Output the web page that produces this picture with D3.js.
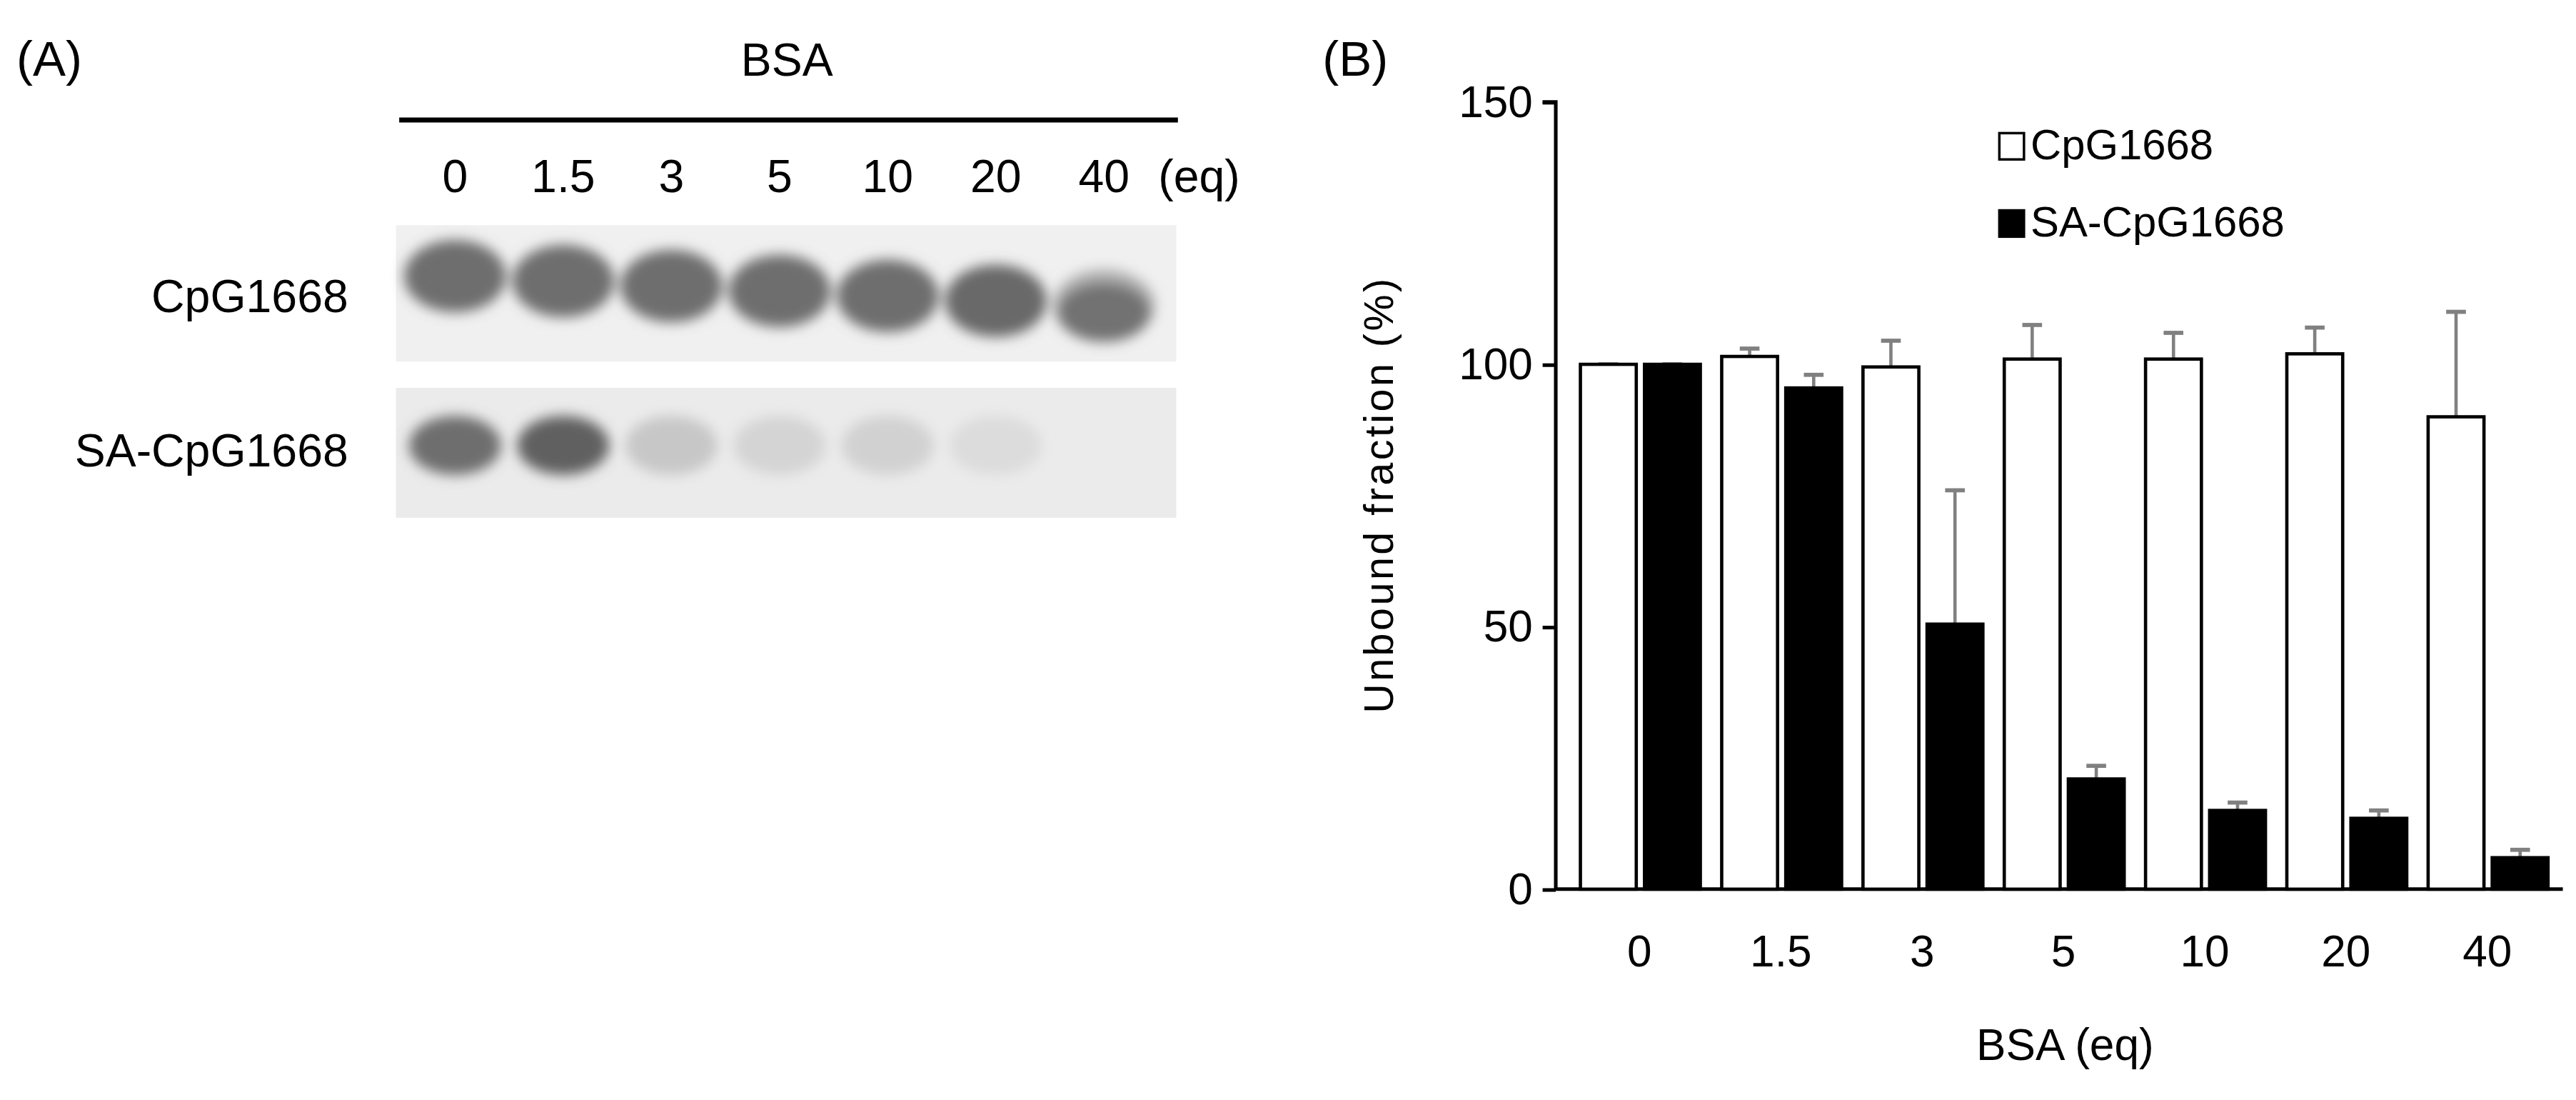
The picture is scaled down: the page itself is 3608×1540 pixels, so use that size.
<!DOCTYPE html><html><head><meta charset="utf-8"><script src="https://cdn.jsdelivr.net/npm/d3@7"></script>
<style>body{margin:0;background:#fff}</style></head><body><svg id="c" width="3608" height="1540"></svg>
<script>
const categories=["0","1.5","3","5","10","20","40"];
const cpgValues=[100,101.5,99.5,101,101,102,90];
const cpgErrors=[0,1.5,5,6.5,5,5,20];
const saValues=[100,95.5,50.5,21,15,13.5,6];
const saErrors=[0,2.5,25.5,2.5,1.5,1.5,1.5];
const significant=[false,false,false,true,true,true,true];
const yTicks=[0,50,100,150];
const gelTopIntensity=[0.62,0.62,0.62,0.62,0.62,0.64,0.30];
const gelTopLower=[0,0,0,0,0,0,0.6];
const gelBottomIntensity=[0.62,0.68,0.18,0.12,0.13,0.08,0];

const svg=d3.select("#c");
const g=svg.append("g").attr("transform","scale(2.301)");
const F="'Liberation Sans',Arial,sans-serif", FN="'Liberation Sans Narrow','Liberation Sans',sans-serif";
const defs=svg.append("defs");
defs.append("filter").attr("id","blur").attr("x","-50%").attr("y","-50%").attr("width","200%").attr("height","200%")
 .append("feGaussianBlur").attr("stdDeviation",4);

// Panel A
g.append("text").attr("x",10).attr("y",46).attr("font-family",FN).attr("font-size",30).text("(A)");
g.append("text").attr("x",479).attr("y",46).attr("text-anchor","middle").attr("font-family",FN).attr("font-size",28).text("BSA");
g.append("line").attr("x1",243).attr("x2",717).attr("y1",73).attr("y2",73).attr("stroke","#000").attr("stroke-width",3);
const lane=d3.scalePoint().domain(categories).range([277,672]);
g.selectAll(".lt").data(categories).join("text").attr("x",d=>lane(d)).attr("y",117).attr("text-anchor","middle")
 .attr("font-family",FN).attr("font-size",28).text(d=>d);
g.append("text").attr("x",705).attr("y",117).attr("font-family",FN).attr("font-size",28).text("(eq)");
g.append("text").attr("x",212).attr("y",190).attr("text-anchor","end").attr("font-family",FN).attr("font-size",28).text("CpG1668");
g.append("text").attr("x",212).attr("y",284).attr("text-anchor","end").attr("font-family",FN).attr("font-size",28).text("SA-CpG1668");
g.append("rect").attr("x",241).attr("y",137).attr("width",475).attr("height",83).attr("fill","#f0f0f0");
g.append("rect").attr("x",241).attr("y",236).attr("width",475).attr("height",79).attr("fill","#ebebeb");
const gray=d3.scaleLinear().domain([0,1]).range(["#ececec","#202020"]);
const gt=g.append("g").attr("filter","url(#blur)");
categories.forEach((c,i)=>{
  const x=lane(c), dy=i*3;
  if(gelTopIntensity[i]>0) gt.append("ellipse").attr("cx",x).attr("cy",168+dy).attr("rx",31).attr("ry",22).attr("fill",gray(gelTopIntensity[i]));
  if(gelTopLower[i]>0) gt.append("ellipse").attr("cx",x).attr("cy",190).attr("rx",28).attr("ry",18).attr("fill",gray(gelTopLower[i]));
  if(gelBottomIntensity[i]>0) gt.append("ellipse").attr("cx",x).attr("cy",271).attr("rx",28).attr("ry",18).attr("fill",gray(gelBottomIntensity[i]));
});

// Panel B
g.append("text").attr("x",805).attr("y",46).attr("font-family",FN).attr("font-size",30).text("(B)");
const x0=d3.scaleBand().domain(categories).range([955,1557]).paddingInner(0).paddingOuter(0);
const y=d3.scaleLinear().domain([0,150]).range([541,62]);
const bw=34;
const ax=g.append("g").attr("transform","translate(947,0)").call(d3.axisLeft(y).tickValues(yTicks).tickSize(8).tickPadding(6));
ax.select(".domain").attr("stroke-width",2.2).attr("d","M-8,62H0V541");
ax.selectAll("line").attr("stroke-width",2.2);
ax.selectAll("text").attr("font-family",FN).attr("font-size",27).attr("fill","#000");
g.append("line").attr("x1",947).attr("x2",1560).attr("y1",y(0)).attr("y2",y(0)).attr("stroke","#000").attr("stroke-width",2.2);
g.selectAll(".xt").data(categories).join("text").attr("x",d=>x0(d)+x0.bandwidth()/2).attr("y",588)
 .attr("text-anchor","middle").attr("font-family",FN).attr("font-size",27).text(d=>d);
g.append("text").attr("x",1257).attr("y",645).attr("text-anchor","middle").attr("font-family",FN).attr("font-size",27).text("BSA (eq)");
g.append("text").attr("transform","translate(848,301) rotate(-90)").attr("text-anchor","middle").attr("font-family",F).attr("font-size",25).attr("letter-spacing",1.5).text("Unbound fraction (%)");

function series(vals,errs,off,fill){
  const cx=(d,i)=>x0(categories[i])+off;
  g.selectAll(null).data(vals).join("line").attr("x1",(d,i)=>cx(d,i)+bw/2).attr("x2",(d,i)=>cx(d,i)+bw/2)
   .attr("y1",d=>y(d)).attr("y2",(d,i)=>y(d+errs[i])).attr("stroke","#808080").attr("stroke-width",2);
  g.selectAll(null).data(vals).join("line").attr("x1",(d,i)=>cx(d,i)+bw/2-6).attr("x2",(d,i)=>cx(d,i)+bw/2+6)
   .attr("y1",(d,i)=>y(d+errs[i])).attr("y2",(d,i)=>y(d+errs[i])).attr("stroke","#808080").attr("stroke-width",2.5);
  g.selectAll(null).data(vals).join("rect").attr("x",cx).attr("width",bw).attr("y",d=>y(d)).attr("height",d=>y(0)-y(d))
   .attr("fill",fill).attr("stroke","#000").attr("stroke-width",2);
}
series(cpgValues,cpgErrors,7,"#fff");
series(saValues,saErrors,46,"#000");
g.selectAll(".ast").data(saValues).join("text").filter((d,i)=>significant[i])
 .attr("x",(d,i)=>x0(categories[i])+46+bw/2).attr("y",(d,i)=>y(d+saErrors[i])-2).attr("text-anchor","middle")
 .attr("font-family",F).attr("font-size",34).text((d,i)=>significant[i]?"*":"");

const leg=[["CpG1668","#fff",97],["SA-CpG1668","#000",144]];
leg.forEach(([t,f,yy])=>{
  g.append("rect").attr("x",1217).attr("y",yy-16).attr("width",15).attr("height",16).attr("fill",f).attr("stroke","#000").attr("stroke-width",1.5);
  g.append("text").attr("x",1236).attr("y",yy).attr("font-family",F).attr("font-size",26).text(t);
});
</script></body></html>
